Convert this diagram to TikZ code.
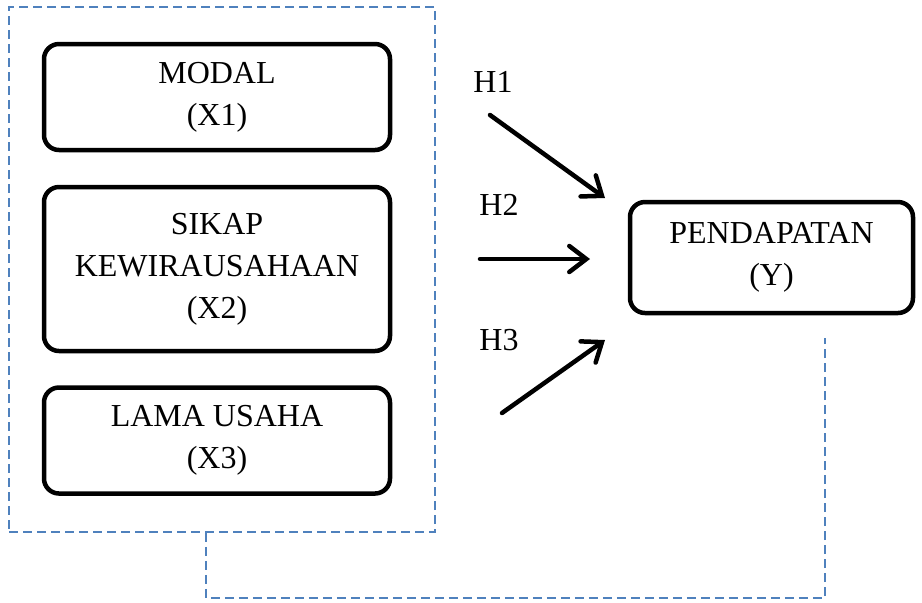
\documentclass[tikz,border=0pt]{standalone}
\usepackage{fontspec}
\setmainfont{Liberation Serif}
\usetikzlibrary{arrows.meta}
\usepackage{xcolor}
\definecolor{frameblue}{RGB}{79,129,189}

\begin{document}
\begin{tikzpicture}[
        x=0.5pt, y=-0.5pt,
        box/.style={draw, line width=2.25pt, rounded corners=7.5pt,
                    minimum width=173pt, align=center,
                    font=\fontsize{16}{21}\selectfont},
        hlabel/.style={font=\fontsize{16}{21}\selectfont},
        frameline/.style={draw=frameblue, line width=0.9pt,
                    dash pattern=on 4.5pt off 2.5pt},
        harrow/.style={line width=2.25pt, line cap=round,
                    -{Straight Barb[length=8.5pt, width=13pt, line cap=round]}},
    ]
        \useasboundingbox (0,0) rectangle (922,602);

        \node[frameline, minimum width=213pt, minimum height=262.5pt] (grp) at (222,269.5) {};

        \node[box, minimum height=53pt] (modal) at (217,97)    {MODAL\\(X1)};
        \node[box, minimum height=82pt] (sikap) at (217,269)   {SIKAP\\KEWIRAUSAHAAN\\(X2)};
        \node[box, minimum height=53pt] (lama)  at (217,440.5) {LAMA USAHA\\(X3)};
        \node[box, minimum width=141.5pt, minimum height=55.5pt] (pend) at (771.5,257.5) {PENDAPATAN\\(Y)};

        \node[hlabel] (h1) at (493,82)  {H1};
        \node[hlabel] (h2) at (499,205) {H2};
        \node[hlabel] (h3) at (499,340) {H3};

        \coordinate (h1s) at (490,115);
        \coordinate (h1e) at (605,198);
        \coordinate (h2s) at (480,259);
        \coordinate (h2e) at (590,259);
        \coordinate (h3s) at (502,413);
        \coordinate (h3e) at (605,340);
        \draw[harrow] (h1s) -- (h1e);
        \draw[harrow] (h2s) -- (h2e);
        \draw[harrow] (h3s) -- (h3e);

        \coordinate (lkx)  at (206,0);
        \coordinate (lkb)  at (825,598);
        \coordinate (yend) at (825,338);
        \draw[frameline] (grp.south -| lkx) |- (lkb) -- (yend);
    \end{tikzpicture}
\end{document}
